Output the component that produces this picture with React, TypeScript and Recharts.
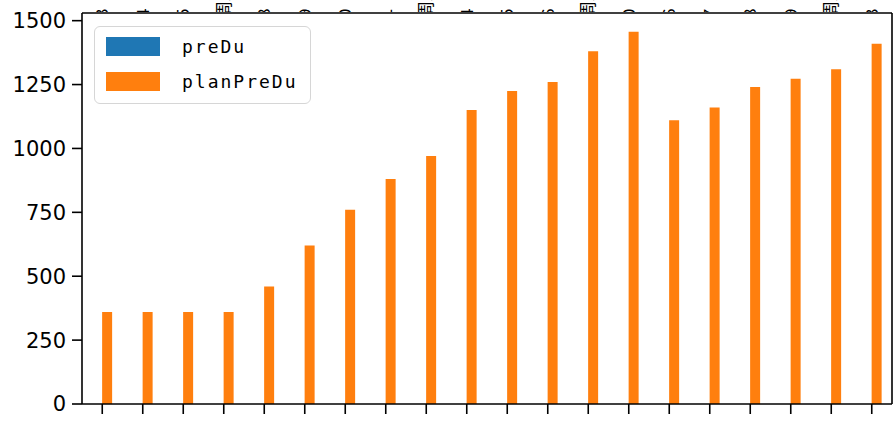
import { BarChart, Bar, XAxis, YAxis } from "recharts";

// day labels (only slivers of the labels from the panel above are visible)
const days = ["3", "4", "5", "周末", "8", "9", "0", "1", "周末", "4", "5", "6", "周末", "0", "6", "7", "8", "9", "周末", "3"];
const preDu = [0, 0, 0, 0, 0, 0, 0, 0, 0, 0, 0, 0, 0, 0, 0, 0, 0, 0, 0, 0];
const planPreDu = [360, 360, 360, 360, 460, 620, 760, 880, 970, 1150, 1225, 1260, 1380, 1457, 1110, 1160, 1240, 1273, 1310, 1410];
const yTicks = [0, 250, 500, 750, 1000, 1250, 1500];

const BLUE = "#1f77b4";
const ORANGE = "#ff7f0e";

const data = days.map((d, i) => ({ day: d, idx: i, preDu: preDu[i], planPreDu: planPreDu[i] }));

const TopFragment = (props: any) => {
  const { x, index } = props;
  const label = days[props.payload.value];
  const id = `frag-${index}`;
  return (
    <g>
      <defs>
        <clipPath id={id}>
          <rect x={x - 12} y={0} width={24} height={12} />
        </clipPath>
      </defs>
      <g clipPath={`url(#${id})`}>
        <text
          x={0}
          y={0}
          transform={`translate(${x + 6}, 18) rotate(-90)`}
          fontFamily="'Noto Sans CJK SC', 'DejaVu Sans', sans-serif"
          fontSize={17}
          fill="#000"
          textAnchor="start"
        >
          {label}
        </text>
      </g>
    </g>
  );
};

const legendItems = [
  { name: "preDu", color: BLUE },
  { name: "planPreDu", color: ORANGE },
];

export default function App() {
  return (
    <div style={{ position: "absolute", left: 0, top: 0, width: 895, height: 424, background: "#fff", overflow: "hidden" }}>
      <BarChart
        width={895}
        height={424}
        data={data}
        margin={{ top: 0, right: 0, bottom: 0, left: 0 }}
        barCategoryGap="25%"
        barGap={0}
      >
        <XAxis
          dataKey="idx"
          xAxisId="top"
          orientation="top"
          height={13}
          tickLine={false}
          axisLine={{ stroke: "#000", strokeWidth: 1.6 }}
          tick={(p: any) => <TopFragment {...p} />}
          interval={0}
        />
        <XAxis
          dataKey="idx"
          height={20}
          interval={0}
          tickSize={10}
          tickLine={{ stroke: "#000", strokeWidth: 1.6 }}
          axisLine={{ stroke: "#000", strokeWidth: 1.6 }}
          tick={() => <g />}
        />
        <YAxis
          width={82}
          domain={[0, 1530]}
          ticks={yTicks}
          tickSize={10}
          tickMargin={6}
          tickLine={{ stroke: "#000", strokeWidth: 1.6 }}
          axisLine={{ stroke: "#000", strokeWidth: 1.6 }}
          tick={{ fill: "#000", fontSize: 21, fontFamily: "'DejaVu Sans', sans-serif" }}
          allowDataOverflow
        />
        <YAxis
          yAxisId="r"
          orientation="right"
          width={3}
          tick={false}
          tickLine={false}
          axisLine={{ stroke: "#000", strokeWidth: 1.6 }}
        />
        <Bar dataKey="preDu" name="preDu" fill={BLUE} isAnimationActive={false} />
        <Bar dataKey="planPreDu" name="planPreDu" fill={ORANGE} isAnimationActive={false} />
      </BarChart>
      <div
        style={{
          position: "absolute",
          left: 94,
          top: 26,
          width: 215,
          height: 76,
          border: "1.5px solid #d6d6d6",
          borderRadius: 6,
          background: "rgba(255,255,255,0.8)",
        }}
      >
        {legendItems.map((it, i) => (
          <div key={it.name} style={{ position: "absolute", left: 11, top: 10 + i * 35, display: "flex", alignItems: "center" }}>
            <span style={{ display: "inline-block", width: 54, height: 19, background: it.color }} />
            <span
              style={{
                marginLeft: 22,
                fontFamily: "'DejaVu Sans Mono', monospace",
                fontSize: 18,
                letterSpacing: 2,
                color: "#000",
                lineHeight: "19px",
              }}
            >
              {it.name}
            </span>
          </div>
        ))}
      </div>
    </div>
  );
}
